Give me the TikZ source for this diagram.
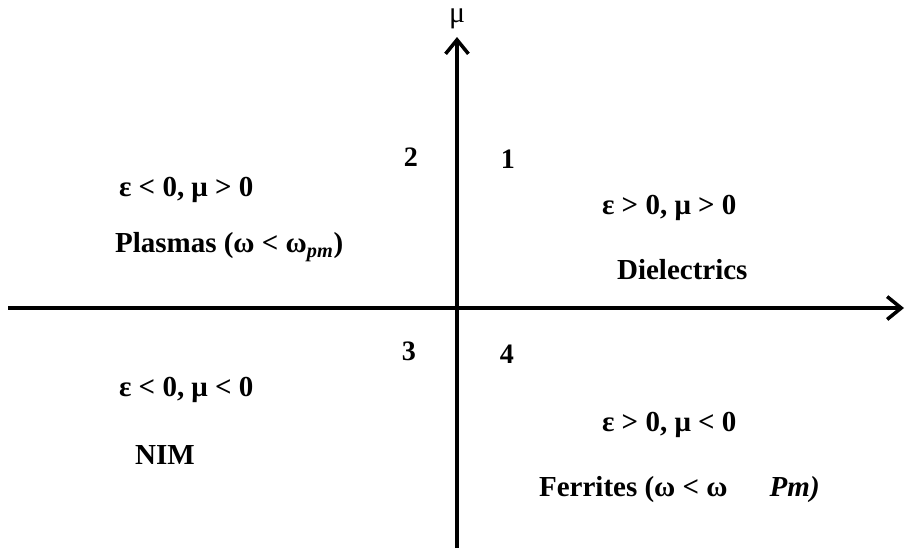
\documentclass[tikz,border=0pt]{standalone}
\usepackage{fontspec}
\setmainfont{Liberation Serif}
\usetikzlibrary{arrows.meta,positioning}

\begin{document}
\begin{tikzpicture}[
    x=0.02cm, y=-0.02cm,
    axis/.style={
        line width=2pt,
        -{Straight Barb[length=8pt,width=13pt,line width=2pt]}
    },
    label/.style={
        font=\fontsize{16.5}{18}\selectfont\bfseries,
        inner sep=1pt,
        anchor=west
    },
    quad/.style={
        font=\fontsize{16}{18}\selectfont\bfseries,
        inner sep=1pt
    }
]
\useasboundingbox (0,0) rectangle (905,548);

% Axes
\coordinate (xstart) at (8,308);
\coordinate (xend) at (904,308);
\coordinate (ystart) at (457,548);
\coordinate (yend) at (457,37);
\draw[axis] (xstart) -- (xend);
\draw[axis] (ystart) -- (yend);
\node[font=\fontsize{17}{19}\selectfont, above=1pt of yend] (mu) {μ};

% Quadrant numbers
\node[quad] (q2) at (411,157) {2};
\node[quad] (q1) at (508,159) {1};
\node[quad] (q3) at (409,351) {3};
\node[quad] (q4) at (507,354) {4};

% Quadrant 2
\node[label] (epsq2) at (117,190) {ε < 0, μ > 0};
\node[label] (plasma) at (113,247) {Plasmas (ω < ω\textsubscript{\itshape pm})};

% Quadrant 1
\node[label] (epsq1) at (600,208) {ε > 0, μ > 0};
\node[label] (diel) at (615,270) {Dielectrics};

% Quadrant 3
\node[label] (epsq3) at (117,390) {ε < 0, μ < 0};
\node[label] (nim) at (133,455) {NIM};

% Quadrant 4
\node[label] (epsq4) at (600,425) {ε > 0, μ < 0};
\node[label] (ferr) at (537,490) {Ferrites (ω < ω\hspace{24pt}\textit{Pm)}};

\end{tikzpicture}
\end{document}
